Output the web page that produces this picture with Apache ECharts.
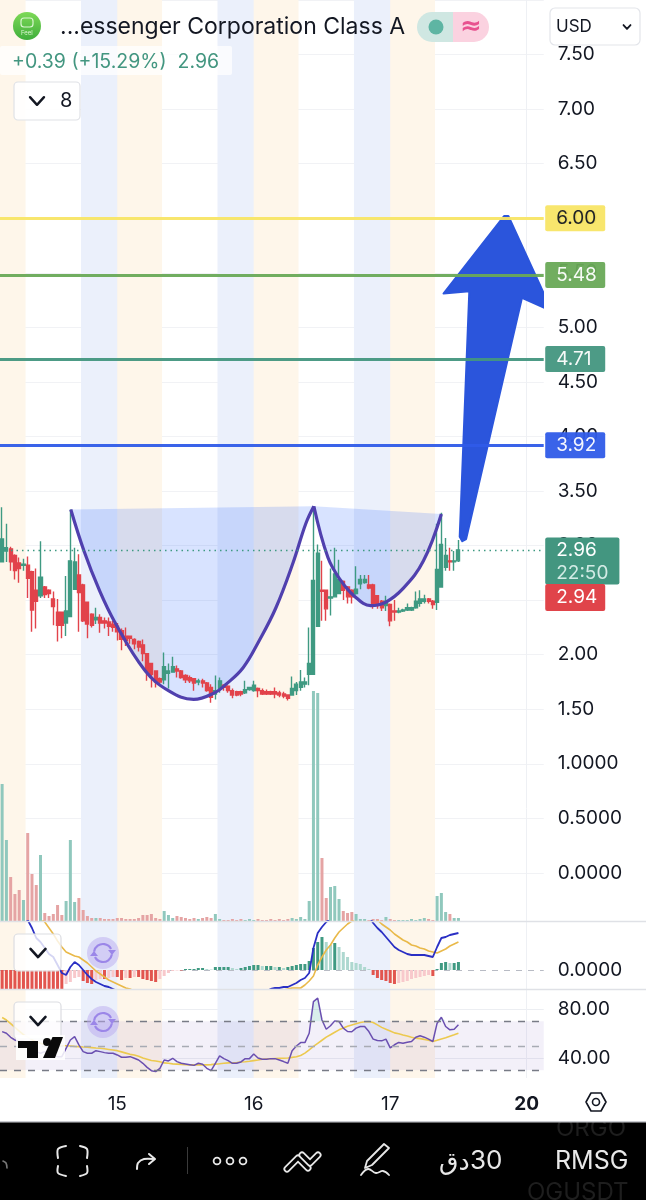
<!DOCTYPE html>
<html>
<head>
<meta charset="utf-8">
<style>
  html, body { margin: 0; padding: 0; background: #fff; }
  #chart { width: 646px; height: 1200px; }
</style>
<script src="https://cdn.jsdelivr.net/npm/echarts@6/dist/echarts.min.js"></script>
</head>
<body>
<div id="chart"></div>
<script>
// 30 minute candles, one row of ten bars per line
const candleOpen = [
  2.85,2.95,2.97,2.91,2.84,2.82,2.82,2.76,2.59,2.54,
  2.62,2.59,2.51,2.39,2.39,2.29,2.35,2.60,2.73,2.64,
  2.48,2.37,2.32,2.34,2.31,2.30,2.28,2.26,2.22,2.17,
  2.17,2.14,2.12,2.09,2.01,1.92,1.85,1.78,1.77,1.83,
  1.84,1.87,1.85,1.81,1.79,1.78,1.75,1.76,1.74,1.70,
  1.64,1.69,1.72,1.71,1.67,1.66,1.66,1.65,1.68,1.67,
  1.69,1.67,1.66,1.66,1.66,1.65,1.64,1.63,1.63,1.67,
  1.70,1.73,1.82,1.82,2.26,2.59,2.59,2.52,2.53,2.56,
  2.67,2.62,2.59,2.56,2.65,2.66,2.64,2.64,2.54,2.49,
  2.45,2.46,2.40,2.39,2.40,2.41,2.41,2.43,2.47,2.49,
  2.51,2.49,2.48,2.62,2.80,2.86,2.85,2.86];
const candleClose = [
  3.06,2.98,2.85,2.77,2.79,2.83,2.70,2.41,2.49,2.71,
  2.55,2.56,2.44,2.27,2.27,2.40,2.86,2.85,2.57,2.31,
  2.28,2.27,2.34,2.29,2.29,2.26,2.25,2.21,2.14,2.13,
  2.15,2.10,2.07,2.01,1.84,1.82,1.75,1.75,1.89,1.85,
  1.89,1.85,1.79,1.77,1.76,1.74,1.76,1.74,1.67,1.61,
  1.67,1.76,1.70,1.67,1.63,1.63,1.64,1.68,1.70,1.72,
  1.67,1.64,1.64,1.64,1.64,1.63,1.62,1.60,1.69,1.73,
  1.75,1.75,1.92,2.68,2.93,2.58,2.42,2.53,2.74,2.69,
  2.59,2.53,2.53,2.60,2.69,2.69,2.61,2.46,2.45,2.43,
  2.49,2.31,2.39,2.40,2.41,2.43,2.43,2.49,2.51,2.51,
  2.49,2.46,2.78,3.01,2.91,2.85,2.86,2.96];
const candleLow = [
  2.85,2.85,2.77,2.69,2.66,2.77,2.52,2.21,2.24,2.52,
  2.52,2.52,2.27,2.12,2.15,2.17,2.36,2.60,2.21,2.30,
  2.15,2.25,2.28,2.20,2.24,2.17,2.21,2.13,2.04,2.08,
  2.10,2.05,2.03,1.94,1.76,1.70,1.70,1.73,1.73,1.69,
  1.84,1.79,1.78,1.74,1.74,1.67,1.72,1.70,1.66,1.56,
  1.59,1.65,1.67,1.65,1.60,1.62,1.62,1.64,1.67,1.66,
  1.61,1.63,1.63,1.63,1.60,1.61,1.60,1.58,1.63,1.63,
  1.67,1.70,1.72,1.82,2.26,2.31,2.31,2.36,2.53,2.56,
  2.50,2.47,2.47,2.55,2.60,2.65,2.60,2.42,2.42,2.40,
  2.40,2.26,2.31,2.38,2.39,2.40,2.40,2.42,2.44,2.47,
  2.47,2.42,2.41,2.62,2.77,2.77,2.77,2.85];
const candleHigh = [
  3.35,3.20,2.99,2.92,2.89,2.88,2.90,2.77,2.79,3.04,
  2.63,2.60,2.58,2.51,2.39,2.72,3.33,2.98,2.92,2.65,
  2.48,2.38,2.43,2.37,2.34,2.34,2.31,2.29,2.24,2.25,
  2.17,2.15,2.13,2.14,2.01,1.92,1.85,1.79,2.02,1.92,
  1.98,1.90,1.86,1.82,1.81,1.78,1.78,1.78,1.75,1.73,
  1.81,1.79,1.73,1.72,1.69,1.67,1.67,1.76,1.70,1.76,
  1.70,1.69,1.68,1.67,1.70,1.67,1.66,1.63,1.80,1.75,
  1.86,1.79,2.25,3.36,3.01,2.86,2.59,2.79,2.98,2.87,
  2.68,2.63,2.60,2.81,2.73,2.73,2.73,2.65,2.54,2.50,
  2.54,2.47,2.50,2.43,2.42,2.47,2.44,2.58,2.59,2.55,
  2.52,2.50,3.20,3.30,3.07,2.98,2.95,3.05];
const volumeValues = [
  137,81,44,27,31,21,88,47,36,66,
  8,5,7,16,6,20,81,19,23,11,
  5,3,3,3,2,2,2,3,3,2,
  2,2,3,6,6,7,3,2,10,6,
  3,5,4,3,2,3,2,3,4,3,
  7,2,1,1,2,1,2,1,2,1,
  2,1,1,2,1,2,1,2,3,2,
  4,2,20,230,228,63,23,34,35,22,
  10,8,9,7,2,2,1,2,2,1,
  4,2,1,1,1,1,2,1,2,3,
  2,1,25,28,9,7,3,3];
// macd pane, one unit is about one screen pixel of the indicator scale
const macdHist = [
  -19,-19,-19,-19,-19,-19,-19,-19,-19,-19,
  -19,-19,-19,-19,-19,-14,-12,-8,-7,-11,
  -13,-14,-10,-9,-9,-8,-7,-7,-10,-8,
  -8,-7,-7,-9,-10,-11,-12,-9,-6,-3,
  -1,-0.5,-0.5,1,1,1,2,2,1,0.5,
  3,3,3,3,2,1,2,3,4,5,
  5,4,4,4,3,3,2,3,4,5,
  6,6,9,22,28,33,28,25,27,23,
  18,13,8,7,6,3,1,-5,-8,-10,
  -11,-13,-14,-13,-12,-11,-9,-8,-7,-6,
  -5,-6,1,7,8,7,7,8];
const macdLine = [
  70,65,62,60,57,52,50,42,32,28,
  22,16,13,5,-3,-5,3,8,5,0,
  -5,-9,-12,-14,-16,-17,-19,-21,-23,-26,
  -29,-31,-33,-35,-38,-41,-44,-46,-47,-47,
  -46,-45,-44,-43,-42,-41,-41,-40,-39,-38,
  -37,-36,-35,-34,-33,-32,-31,-30,-28,-26,
  -25,-23,-21,-19,-18,-18,-17,-17,-15,-13,
  -10,-8,-3,22,37,43,48,52,58,62,
  66,68,69,68,65,60,54,47,42,38,
  33,28,23,20,18,16,15,15,15,15,
  14,13,23,32,33,35,36,37];
const macdSignal = [
  90,85,80,76,72,68,64,60,56,52,
  48,42,36,29,23,18,16,14,13,10,
  7,3,-1,-4,-7,-10,-12,-14,-16,-18,
  -19,-21,-23,-25,-27,-29,-31,-33,-35,-37,
  -38,-39,-40,-40,-40,-40,-40,-39,-39,-38,
  -38,-37,-36,-35,-34,-33,-32,-31,-30,-29,
  -28,-27,-26,-24,-23,-22,-20,-19,-18,-18,
  -18,-15,-11,-6,5,13,20,25,32,38,
  42,46,49,52,54,55,55,53,50,46,
  43,40,36,33,30,28,25,24,22,21,
  19,18,17,19,21,24,26,28];
const rsiValues = [
  61.5,60.2,56.9,54.7,53.4,53.4,52,46.6,45.2,43.9,
  45.2,43.9,42.5,41.1,41.1,47.9,54.7,57.5,50.7,45.2,
  43.9,43.9,46,45.2,44.4,43.9,43.9,42.5,40.6,40.6,
  41.1,39.8,38.4,35.7,32.4,29.7,28.9,31.6,38.4,37.6,
  39.8,37.1,35.7,35.2,34.6,34,35.7,34.9,31.6,29.7,
  35.7,41.7,39.5,37.9,35.7,35.7,36.8,39.5,39.5,43.3,
  40,39,39,39.5,39.5,38.4,37.1,35.7,46,49.8,
  52.6,52.6,60.2,86,88.8,71,63.5,66.3,70.3,69.8,
  64.4,61.6,61.4,64.4,65.7,65.7,61.6,55.4,54.3,54,
  55.4,48.3,50.8,52.7,52.1,52.9,53.5,57,58.1,57,
  55.4,53.5,68.4,73.3,65.7,63,63.5,67.1];
const rsiSignal = [
  73,71,68,65,62,59,57,55,53,52,
  51,51,50,50,50,50,49.8,49.5,49.3,49,
  48.8,48.5,48.2,48,47.5,47,46.5,46,45,44,
  43,42.5,41.5,40,39,38,37.5,37,36,35.7,
  35.2,35,34.8,34.5,34.4,34.4,34.4,34.4,34.4,34.6,
  35,35.3,35.7,36,36.2,36.4,36.7,37,37.4,37.9,
  38.4,39,39.2,39.4,39.6,39.8,39.8,40,40.5,41,
  42,44,46.7,49.5,52,54.5,57,59,61,63,
  64.5,66,67,68,69,69.6,69.8,69,67,65,
  63.5,62,60.5,59.8,58.8,58,57,56.2,55.8,55.2,
  54.5,53.5,54.5,55.5,56.5,57.8,59,60.3];

// drawn cup and handle, x is counted in bars from the left edge
const cupOneX = [16.6,19.7,23.2,26.9,33.9,39.5,45.4,50.3,53.05,57,60.8,64.7,68.7,71.7,73.6];
const cupOnePrice = [3.33,2.95,2.60,2.30,1.86,1.67,1.59,1.65,1.73,1.88,2.13,2.43,2.84,3.20,3.36];
const cupTwoX = [73.6,76.9,79.9,83,86.9,90.4,94.6,99.3,103.5];
const cupTwoPrice = [3.36,2.89,2.68,2.54,2.45,2.48,2.61,2.86,3.29];
// big blue arrow
const arrowX = [108.4,107.8,110.05,104,118.2,119.2,129.4,122.4,109.3];
const arrowPrice = [3.04,3.08,5.33,5.31,6.02,6.02,5.15,5.27,3.06];

// session bands, kind 0 pre market, 1 after hours
const sessionStart = [0,19,27.5,51,59.5,83,91.5];
const sessionEnd = [6,27.5,38,59.5,70,91.5,102];
const sessionKind = [1,0,1,0,1,0,1];

const levelPrices = [6.00,5.48,4.71,3.92];
const levelLabels = ['6.00','5.48','4.71','3.92'];
const levelColors = ['#f8e565','#69a957','#439680','#2f5be8'];
const levelTextColors = ['#131722','#ffffff','#ffffff','#ffffff'];
const lastPrice = 2.96;
const bidPrice = 2.94;

const dayTicks = [27.5,59.5,91.5,123.5];
const dayLabels = ['15','16','17','20'];

const greenColor = '#3f9a82';
const redColor = '#e2434b';
const fontName = 'Inter, "Noto Sans", "DejaVu Sans", sans-serif';
// bars on screen: 4.28125px each, first one starts just off the left edge
const barCount = 127.5;
const gridLeft = -2.14;
const gridWidth = barCount * 4.28125;

const chart = echarts.init(document.getElementById('chart'), null, { renderer: 'canvas' });

function barPos(i) { return i + 0.5; }
function pairs(xs, ys) { return xs.map(function (x, i) { return [x, ys[i]]; }); }
function indexed(values) { return values.map(function (v, i) { return [barPos(i), v]; }); }

function hiddenX(gridIndex) {
  return { type: 'value', gridIndex: gridIndex, min: 0, max: barCount, show: false };
}

// polygon drawn through the axes of whatever grid the series sits on
function polygonSeries(name, axisIndex, xs, ys, fill, z, stroke) {
  return {
    type: 'custom', name: name, xAxisIndex: axisIndex, yAxisIndex: axisIndex, z: z, clip: true,
    silent: true, data: [[xs[0], ys[0]]],
    renderItem: function (params, api) {
      return {
        type: 'polygon',
        shape: { points: xs.map(function (x, i) { return api.coord([x, ys[i]]); }) },
        style: { fill: fill, stroke: stroke || null, lineWidth: 2, lineJoin: 'round' }
      };
    }
  };
}

function curveSeries(xs, ys) {
  return {
    type: 'line', xAxisIndex: 0, yAxisIndex: 0, z: 5, smooth: 0.4, showSymbol: false, silent: true,
    lineStyle: { color: '#5040ae', width: 3.2 }, data: pairs(xs, ys)
  };
}

function indicatorLine(axisIndex, values, color, width) {
  return {
    type: 'line', xAxisIndex: axisIndex, yAxisIndex: axisIndex, z: 4, showSymbol: false, silent: true,
    lineStyle: { color: color, width: width }, data: indexed(values)
  };
}

const levelLines = levelPrices.map(function (p, i) {
  return {
    yAxis: p,
    lineStyle: { color: levelColors[i], width: 3, type: 'solid', opacity: 0.95 },
    label: {
      formatter: levelLabels[i], color: levelTextColors[i], backgroundColor: levelColors[i],
      fontFamily: fontName, fontSize: 19, width: 38, lineHeight: 25, padding: [1, 11, 0, 11], borderRadius: 2,
      position: 'end', distance: 1.5
    }
  };
});

const option = {
  animation: false,
  backgroundColor: '#ffffff',
  grid: [
    { left: gridLeft, width: gridWidth, top: -1.27, height: 874.16 },
    { left: gridLeft, width: gridWidth, top: 680, height: 241 },
    { left: gridLeft, width: gridWidth, top: 921, height: 68 },
    { left: gridLeft, width: gridWidth, top: 989, height: 89 },
    { left: gridLeft, width: gridWidth, top: 0, height: 1078 }
  ],
  xAxis: [
    hiddenX(0), hiddenX(1), hiddenX(2), hiddenX(3),
    {
      type: 'value', gridIndex: 4, min: 0, max: barCount,
      axisLine: { show: false },
      axisTick: { show: false, customValues: dayTicks },
      splitLine: { show: true, lineStyle: { color: '#eef0f4', width: 1 } },
      axisLabel: {
        customValues: dayTicks, margin: 17, fontFamily: fontName, fontSize: 19, color: '#131722',
        formatter: function (v) {
          const text = dayLabels[dayTicks.indexOf(v)];
          return text === '20' ? '{b|20}' : text;
        },
        rich: { b: { fontFamily: fontName, fontSize: 19, fontWeight: 'bold', color: '#131722' } }
      }
    }
  ],
  yAxis: [
    {
      type: 'value', gridIndex: 0, position: 'right', min: 0, max: 8, interval: 0.5,
      axisLine: { show: false }, axisTick: { show: false },
      splitLine: { lineStyle: { color: '#f1f2f5', width: 1 } },
      axisLabel: {
        margin: 14, fontFamily: fontName, fontSize: 19, color: '#131722', showMaxLabel: false,
        padding: [2, 0, 0, 0],
        formatter: function (v) { return v >= 1.5 ? v.toFixed(2) : v.toFixed(4); }
      }
    },
    { type: 'value', gridIndex: 1, min: 0, max: 241, show: false },
    {
      type: 'value', gridIndex: 2, position: 'right', min: -19, max: 49,
      axisLine: { show: false },
      axisTick: { show: false, customValues: [0] },
      splitLine: { show: false },
      axisLabel: {
        customValues: [0], margin: 14, fontFamily: fontName, fontSize: 19, color: '#131722',
        padding: [3, 0, 0, 0],
        formatter: function () { return '0.0000'; }
      }
    },
    {
      type: 'value', gridIndex: 3, position: 'right', min: 23.7, max: 96.3,
      axisLine: { show: false },
      axisTick: { show: false, customValues: [80, 40] },
      splitLine: { show: true, lineStyle: { color: '#eceef2', width: 1 } },
      axisLabel: {
        customValues: [80, 40], margin: 14, fontFamily: fontName, fontSize: 19, color: '#131722',
        padding: [3, 0, 0, 0],
        formatter: function (v) { return v.toFixed(2); }
      }
    },
    { type: 'value', gridIndex: 4, min: 0, max: 1, show: false }
  ],
  series: [
    // session bands behind everything
    {
      type: 'custom', xAxisIndex: 4, yAxisIndex: 4, z: 0, silent: true,
      encode: { x: [0, 1] },
      data: sessionStart.map(function (s, i) { return [s, sessionEnd[i], sessionKind[i]]; }),
      renderItem: function (params, api) {
        const a = api.coord([api.value(0), 1]);
        const b = api.coord([api.value(1), 0]);
        return {
          type: 'rect',
          shape: { x: a[0], y: a[1], width: b[0] - a[0], height: b[1] - a[1] },
          style: { fill: api.value(2) === 0 ? '#ebf0fb' : '#fef6ea' }
        };
      }
    },
    polygonSeries('cup', 0, cupOneX, cupOnePrice, 'rgba(41,98,255,0.18)', 1),
    polygonSeries('handle', 0, cupTwoX, cupTwoPrice, 'rgba(41,98,255,0.18)', 1),
    // volume
    {
      type: 'bar', xAxisIndex: 1, yAxisIndex: 1, z: 2, barWidth: 3, silent: true,
      data: volumeValues.map(function (v, i) {
        return {
          value: [barPos(i), v],
          itemStyle: { color: candleClose[i] >= candleOpen[i] ? '#90c8bd' : '#e5a4a4' }
        };
      })
    },
    // candles
    {
      type: 'candlestick', xAxisIndex: 0, yAxisIndex: 0, z: 3, barWidth: 3.6, silent: true,
      itemStyle: { color: greenColor, color0: redColor, borderColor: greenColor, borderColor0: redColor, borderWidth: 1.4 },
      data: candleOpen.map(function (o, i) {
        return [barPos(i), o, candleClose[i], candleLow[i], candleHigh[i]];
      })
    },
    curveSeries(cupOneX, cupOnePrice),
    curveSeries(cupTwoX, cupTwoPrice),
    polygonSeries('arrow', 0, arrowX, arrowPrice, '#2b55dc', 6, '#2b55dc'),
    // level lines and their price tags
    {
      type: 'line', xAxisIndex: 0, yAxisIndex: 0, z: 7, silent: true, data: [],
      markLine: {
        silent: true, symbol: 'none', precision: 2, animation: false, z: 8,
        data: levelLines.concat([
          {
            yAxis: lastPrice,
            lineStyle: { color: '#3f9a82', width: 1.3, type: [1.5, 4] },
            label: {
              formatter: '2.96\n{t|22:50}', color: '#ffffff', backgroundColor: '#439680',
              fontFamily: fontName, fontSize: 19, lineHeight: 23, padding: [1, 11, 0, 11], borderRadius: 2,
              position: 'end', distance: 1.5, offset: [0, 11], align: 'left',
              rich: { t: { color: '#d3ebe5', fontFamily: fontName, fontSize: 19, lineHeight: 23 } }
            }
          },
          {
            yAxis: bidPrice,
            lineStyle: { color: 'rgba(0,0,0,0)', width: 1 },
            label: {
              formatter: '2.94', color: '#ffffff', backgroundColor: '#e0444a',
              fontFamily: fontName, fontSize: 19, width: 38, lineHeight: 26, padding: [1, 11, 0, 11], borderRadius: 2,
              position: 'end', distance: 1.5, offset: [0, 45.5]
            }
          }
        ])
      }
    },
    // macd
    {
      type: 'bar', xAxisIndex: 2, yAxisIndex: 2, z: 2, barWidth: 3, silent: true,
      data: macdHist.map(function (v, i) {
        const prev = i > 0 ? macdHist[i - 1] : v;
        let color;
        if (v >= 0) color = v >= prev ? '#3f9a82' : '#aed8d0';
        else color = v <= prev ? '#e2554f' : '#f8c9cc';
        return { value: [barPos(i), v], itemStyle: { color: color } };
      })
    },
    indicatorLine(2, macdSignal, '#e9b949', 1.6),
    indicatorLine(2, macdLine, '#2a2fc4', 1.8),
    {
      type: 'line', xAxisIndex: 2, yAxisIndex: 2, z: 1, silent: true, data: [],
      markLine: {
        silent: true, symbol: 'none', animation: false, z: 1,
        data: [{ yAxis: 0, lineStyle: { color: '#b8bbc4', width: 1.2, type: [6, 6] }, label: { show: false } }]
      }
    },
    // rsi
    {
      type: 'line', xAxisIndex: 3, yAxisIndex: 3, z: 3, showSymbol: false, silent: true,
      lineStyle: { opacity: 0 },
      areaStyle: { origin: 70, color: 'rgba(8,153,129,0.22)' },
      data: indexed(rsiValues.map(function (v) { return Math.max(v, 70); }))
    },
    {
      type: 'line', xAxisIndex: 3, yAxisIndex: 3, z: 1, silent: true, data: [],
      markArea: {
        silent: true, animation: false,
        itemStyle: { color: 'rgba(126,87,194,0.09)' },
        data: [[{ yAxis: 70 }, { yAxis: 30 }]]
      },
      markLine: {
        silent: true, symbol: 'none', animation: false,
        data: [
          { yAxis: 70, lineStyle: { color: '#787b86', width: 1.3, type: [7, 7] }, label: { show: false } },
          { yAxis: 50, lineStyle: { color: '#a8abb4', width: 1.3, type: [7, 7] }, label: { show: false } },
          { yAxis: 30, lineStyle: { color: '#787b86', width: 1.3, type: [7, 7] }, label: { show: false } }
        ]
      }
    },
    indicatorLine(3, rsiSignal, '#ecc94f', 1.6),
    indicatorLine(3, rsiValues, '#6a4fb0', 1.5)
  ],
  graphic: buildChrome()
};

chart.setOption(option);

// everything around the plot: header, pane buttons, logo, toolbar
function buildChrome() {
  const out = [];
  function text(x, y, str, size, color, extra) {
    out.push({
      type: 'text', z: 100, x: x, y: y, silent: true,
      style: Object.assign({ text: str, fontFamily: fontName, fontSize: size, fill: color, textVerticalAlign: 'middle' }, extra || {})
    });
  }
  function rect(x, y, w, h, r, fill, stroke) {
    out.push({
      type: 'rect', z: 99, silent: true, shape: { x: x, y: y, width: w, height: h, r: r },
      style: { fill: fill, stroke: stroke || null, lineWidth: 1.2 }
    });
  }
  function poly(points, color, width, smooth) {
    out.push({
      type: 'polyline', z: 100, silent: true, shape: { points: points, smooth: smooth || 0 },
      style: { stroke: color, fill: null, lineWidth: width, lineCap: 'round', lineJoin: 'round' }
    });
  }
  function fillPoly(points, color) {
    out.push({ type: 'polygon', z: 100, silent: true, shape: { points: points }, style: { fill: color } });
  }
  function circle(cx, cy, r, fill, stroke, width) {
    out.push({
      type: 'circle', z: 100, silent: true, shape: { cx: cx, cy: cy, r: r },
      style: { fill: fill, stroke: stroke || null, lineWidth: width || 1 }
    });
  }
  function arc(cx, cy, r, a, b, color, width) {
    out.push({
      type: 'arc', z: 100, silent: true, shape: { cx: cx, cy: cy, r: r, startAngle: a, endAngle: b },
      style: { stroke: color, fill: null, lineWidth: width }
    });
  }
  function chevron(x, y, size, color, width) {
    poly([[x - size, y - size * 0.55], [x, y + size * 0.55], [x + size, y - size * 0.55]], color, width);
  }
  function refreshIcon(cx, cy) {
    circle(cx, cy, 16, 'rgba(186,170,240,0.5)');
    arc(cx, cy, 9, Math.PI * 1.05, Math.PI * 1.85, '#9b86e8', 2.2);
    arc(cx, cy, 9, Math.PI * 0.05, Math.PI * 0.85, '#9b86e8', 2.2);
    fillPoly([[cx + 5, cy - 3], [cx + 13, cy - 3], [cx + 9, cy + 2]], '#9b86e8');
    fillPoly([[cx - 13, cy + 3], [cx - 5, cy + 3], [cx - 9, cy - 2]], '#9b86e8');
  }

  // pane separators
  out.push({ type: 'line', z: 90, silent: true, shape: { x1: 0, y1: 921.5, x2: 646, y2: 921.5 }, style: { stroke: '#dfe1e6', lineWidth: 1.5 } });
  out.push({ type: 'line', z: 90, silent: true, shape: { x1: 0, y1: 989.5, x2: 646, y2: 989.5 }, style: { stroke: '#dfe1e6', lineWidth: 1.5 } });

  // header
  out.push({
    type: 'circle', z: 100, silent: true, shape: { cx: 27, cy: 26, r: 14 },
    style: { fill: new echarts.graphic.LinearGradient(0, 0, 0, 1, [{ offset: 0, color: '#7ed957' }, { offset: 1, color: '#3fae3c' }]) }
  });
  out.push({
    type: 'rect', z: 101, silent: true, shape: { x: 21, y: 18, width: 12, height: 9, r: 3 },
    style: { fill: null, stroke: '#d9f5d0', lineWidth: 1.2 }
  });
  text(21, 33, 'Feel', 6, '#d9f5d0');
  text(60, 27, '...essenger Corporation Class A', 23, '#131722');
  out.push({ type: 'rect', z: 99, silent: true, shape: { x: 417, y: 12, width: 36, height: 30, r: [15, 0, 0, 15] }, style: { fill: '#cfe7e2' } });
  out.push({ type: 'rect', z: 99, silent: true, shape: { x: 453, y: 12, width: 36, height: 30, r: [0, 15, 15, 0] }, style: { fill: '#fbd2e0' } });
  circle(436, 27, 7.5, '#5eb5a3');
  text(460, 27, '≈', 26, '#e8528f', { fontWeight: 'bold', fontFamily: '"DejaVu Sans", sans-serif' });
  rect(550, 8, 90, 37, 5, '#ffffff', '#e3e5ea');
  text(556, 27, 'USD', 17, '#131722');
  chevron(627, 27, 3.5, '#131722', 1.8);
  rect(0, 46, 232, 29, 2, 'rgba(255,255,255,0.75)');
  text(12, 62, '+0.39 (+15.29%)  2.96', 19.5, '#439680');
  rect(14, 82, 66, 38, 4, 'rgba(255,255,255,0.9)', '#dfe1e6');
  chevron(37, 101, 7, '#131722', 2.4);
  text(60, 101, '8', 20, '#131722');

  // pane buttons
  rect(14, 934, 47, 37, 4, 'rgba(255,255,255,0.8)', '#dcdde2');
  chevron(38, 953, 7.5, '#131722', 2.6);
  refreshIcon(103, 953);
  rect(14, 1002, 47, 37, 4, 'rgba(255,255,255,0.8)', '#dcdde2');
  chevron(38, 1021, 7.5, '#131722', 2.6);
  refreshIcon(103, 1022);

  // watermark logo
  rect(16, 1035, 49, 25, 0, 'rgba(255,255,255,0.85)');
  fillPoly([[18, 1041], [38, 1041], [38, 1058], [27, 1058], [27, 1048], [18, 1048]], '#0a0a0a');
  circle(47, 1042, 4, '#0a0a0a');
  fillPoly([[43, 1058], [55, 1058], [63, 1037], [52.5, 1037]], '#0a0a0a');

  // toolbar
  rect(0, 1122, 646, 78, 0, '#000000');
  text(556, 1129, 'ORGO', 24, '#1e1e1e');
  text(527, 1193, 'OGUSDT', 24, '#1e1e1e');
  // the ghost ticker is cut off by the top edge of the toolbar
  out.push({ type: 'rect', z: 101, silent: true, shape: { x: 520, y: 1112, width: 126, height: 9 }, style: { fill: '#ffffff' } });
  out.push({ type: 'rect', z: 101, silent: true, shape: { x: 0, y: 1121, width: 646, height: 1.5 }, style: { fill: '#c9cbd0' } });

  // settings hexagon
  poly([[586, 1102], [591, 1093], [601, 1093], [606, 1102], [601, 1111], [591, 1111], [586, 1102]], '#131722', 1.6);
  circle(596, 1102, 3.5, null, '#131722', 1.6);

  text(555, 1161, 'RMSG', 25, '#e8e8e8');
  text(470, 1161, '30', 26, '#e8e8e8');
  text(439, 1163, 'دق', 25, '#e8e8e8', { fontFamily: '"DejaVu Sans", sans-serif' });
  // pen
  poly([[367, 1161], [384, 1144], [389, 1148], [372, 1165], [365, 1168], [367, 1161]], '#e8e8e8', 1.8);
  poly([[361, 1175], [368, 1169], [376, 1173], [383, 1171], [389, 1175]], '#e8e8e8', 1.8, 0.4);
  // trend template icon
  poly([[287, 1169], [298, 1158], [308, 1168]], '#e8e8e8', 7);
  poly([[287, 1169], [298, 1158], [308, 1168]], '#000000', 3.5);
  poly([[302, 1155], [310, 1163], [318, 1155]], '#e8e8e8', 7);
  poly([[302, 1155], [310, 1163], [318, 1155]], '#000000', 3.5);
  circle(217, 1161, 3.4, null, '#e8e8e8', 1.8);
  circle(230, 1161, 3.4, null, '#e8e8e8', 1.8);
  circle(243, 1161, 3.4, null, '#e8e8e8', 1.8);
  out.push({ type: 'line', z: 100, silent: true, shape: { x1: 187.5, y1: 1147, x2: 187.5, y2: 1174 }, style: { stroke: '#3a3a3a', lineWidth: 1 } });
  // redo arrow
  poly([[137, 1169], [138, 1163], [144, 1159], [154, 1159]], '#e8e8e8', 2, 0.3);
  poly([[149, 1154], [155, 1159], [149, 1164]], '#e8e8e8', 2);
  // fullscreen corners
  poly([[58, 1158], [58, 1149], [66, 1146]], '#e8e8e8', 2, 0.3);
  poly([[80, 1146], [87, 1149], [87, 1158]], '#e8e8e8', 2, 0.3);
  poly([[58, 1166], [58, 1173], [66, 1176]], '#e8e8e8', 2, 0.3);
  poly([[80, 1176], [87, 1173], [87, 1166]], '#e8e8e8', 2, 0.3);
  // cut off icon at the left edge
  poly([[3, 1161], [6, 1163], [7, 1168]], '#777777', 1.6, 0.3);
  return out;
}
</script>
</body>
</html>
